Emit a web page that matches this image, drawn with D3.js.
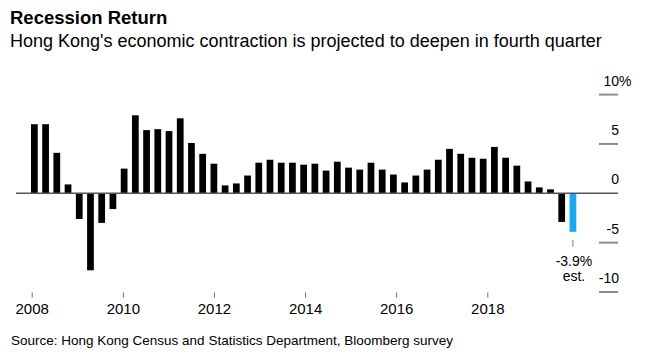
<!DOCTYPE html>
<html>
<head>
<meta charset="utf-8">
<script src="https://cdn.jsdelivr.net/npm/d3@7"></script>
<style>
  body { margin: 0; background: #fff; }
  text { font-family: "Liberation Sans", Arial, sans-serif; fill: #000; }
</style>
</head>
<body>
<div id="chart"></div>
<script>
// Quarters, 2007 Q4 through 2019 Q4 (last one is an estimate)
var quarters = [];
for (var yr = 2007; yr <= 2019; yr++) {
    for (var q = 1; q <= 4; q++) {
        if (yr === 2007 && q < 4) continue;
        quarters.push(yr + "Q" + q);
    }
}
// Real GDP, % change year on year
var growth = [7.0, 7.0, 4.1, 0.9, -2.6, -7.8, -3.0, -1.6,
    2.5, 7.9, 6.4, 6.5, 6.3, 7.6, 5.1, 4.0,
    3.0, 0.8, 1.0, 1.8, 3.1, 3.4, 3.1, 3.1,
    2.9, 3.0, 2.3, 3.2, 2.6, 2.4, 3.1, 2.4,
    1.9, 1.1, 1.8, 2.4, 3.4, 4.5, 4.0, 3.6,
    3.5, 4.7, 3.6, 2.8, 1.2, 0.6, 0.4, -2.9, -3.9];
var estimateQuarter = "2019Q4";
var xTickYears = [2008, 2010, 2012, 2014, 2016, 2018];
var yTickValues = [10, 5, 0, -5, -10];

var svgWidth = 646;
var svgHeight = 361;

var svg = d3.select("#chart")
    .append("svg")
    .attr("width", svgWidth)
    .attr("height", svgHeight);

svg.append("rect")
    .attr("width", svgWidth)
    .attr("height", svgHeight)
    .attr("fill", "#fff");

// Title and subtitle
svg.append("text")
    .attr("x", 10)
    .attr("y", 24)
    .attr("font-size", 18.5)
    .attr("font-weight", "bold")
    .text("Recession Return");
svg.append("text")
    .attr("x", 10)
    .attr("y", 47)
    .attr("font-size", 18)
    .text("Hong Kong's economic contraction is projected to deepen in fourth quarter");

// Scales
var yScale = d3.scaleLinear()
    .domain([-10, 10])
    .range([292, 94.6]);

var xTime = d3.scaleTime()
    .domain([new Date(2008, 0, 1), new Date(2018, 0, 1)])
    .range([31.7, 487.3]);

var xBand = d3.scaleBand()
    .domain(quarters)
    .range([31, 576.3])
    .paddingInner(0.4)
    .paddingOuter(0);

// Right-hand value axis: short gray ticks with labels above them
var yAxisGroup = svg.append("g");
yAxisGroup.selectAll("line")
    .data(yTickValues.filter(d => d !== 0))
    .enter()
    .append("line")
    .attr("x1", 599)
    .attr("x2", 618)
    .attr("y1", d => yScale(d))
    .attr("y2", d => yScale(d))
    .attr("stroke", "#8c8c8c")
    .attr("stroke-width", 2);

yAxisGroup.selectAll("text")
    .data(yTickValues)
    .enter()
    .append("text")
    .attr("x", 619)
    .attr("y", d => yScale(d) - 9)
    .attr("font-size", 14)
    .attr("text-anchor", "end")
    .text(d => String(d));
// percent sign hangs past the right edge of the top label
yAxisGroup.append("text")
    .attr("x", 619)
    .attr("y", yScale(10) - 9)
    .attr("font-size", 14)
    .text("%");

// Bars
svg.append("g")
    .selectAll("rect")
    .data(quarters)
    .enter()
    .append("rect")
    .attr("x", d => xBand(d))
    .attr("width", xBand.bandwidth())
    .attr("y", (d, i) => yScale(Math.max(0, growth[i])))
    .attr("height", (d, i) => Math.abs(yScale(growth[i]) - yScale(0)))
    .attr("fill", d => d === estimateQuarter ? "#1aa9f0" : "#000");

// Zero line
svg.append("line")
    .attr("x1", 16)
    .attr("x2", 618)
    .attr("y1", yScale(0))
    .attr("y2", yScale(0))
    .attr("stroke", "#555")
    .attr("stroke-width", 1.5);

// Bottom time axis
var bottomAxis = d3.axisBottom(xTime)
    .tickValues(xTickYears.map(y => new Date(y, 0, 1)))
    .tickFormat(d3.timeFormat("%Y"))
    .tickSize(5)
    .tickPadding(6);

var xAxisGroup = svg.append("g")
    .attr("transform", "translate(0, 292.5)")
    .call(bottomAxis);
xAxisGroup.select(".domain").remove();
xAxisGroup.selectAll(".tick line").attr("stroke", "#666");
xAxisGroup.selectAll(".tick text")
    .attr("font-family", "Liberation Sans, Arial, sans-serif")
    .attr("font-size", 15)
    .attr("fill", "#000");

// Annotation for the estimate
var estIndex = quarters.indexOf(estimateQuarter);
var estX = xBand(estimateQuarter) + xBand.bandwidth() / 2;
svg.append("line")
    .attr("x1", estX)
    .attr("x2", estX)
    .attr("y1", yScale(growth[estIndex]) + 8)
    .attr("y2", yScale(growth[estIndex]) + 15)
    .attr("stroke", "#777")
    .attr("stroke-width", 1);
svg.append("text")
    .attr("x", estX + 1)
    .attr("y", yScale(growth[estIndex]) + 34)
    .attr("font-size", 14)
    .attr("text-anchor", "middle")
    .text(growth[estIndex].toFixed(1) + "%");
svg.append("text")
    .attr("x", estX + 1)
    .attr("y", yScale(growth[estIndex]) + 49)
    .attr("font-size", 14)
    .attr("text-anchor", "middle")
    .text("est.");

// Source
svg.append("text")
    .attr("x", 11)
    .attr("y", 345)
    .attr("font-size", 13.5)
    .text("Source: Hong Kong Census and Statistics Department, Bloomberg survey");
</script>
</body>
</html>
